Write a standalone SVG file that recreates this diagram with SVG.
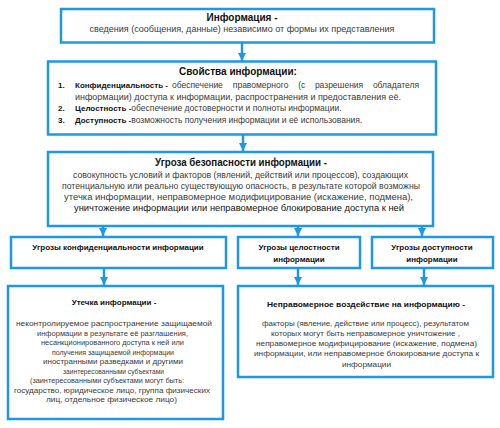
<svg xmlns="http://www.w3.org/2000/svg" width="500" height="428" viewBox="0 0 500 428">
<defs>
<style>
.box{fill:#fff;stroke:#1d98e3;stroke-width:2.5}
.arr{stroke:#1d98e3;stroke-width:2.5;fill:none}
text{font-family:"Liberation Sans",Arial,sans-serif;fill:#3a3a3a}
.t{font-weight:bold;fill:#111;font-size:10px}
.h{font-weight:bold;fill:#111;font-size:8px}
.bb{font-weight:bold;fill:#111;font-size:8px}
.b{font-size:8.5px}
.s{font-size:7.5px}
.c{text-anchor:middle}
</style>
<marker id="ah" viewBox="0 0 8 8" refX="8" refY="4" markerWidth="8" markerHeight="8" markerUnits="userSpaceOnUse" orient="auto">
<path d="M0,0 L8,4 L0,8 Z" fill="#1d98e3"/>
</marker>
</defs>
<rect width="500" height="428" fill="#fff"/>
<g id="connectors">
<line class="arr" x1="242" y1="43" x2="242" y2="61" marker-end="url(#ah)"/>
<line class="arr" x1="243" y1="135" x2="243" y2="151" marker-end="url(#ah)"/>
<line class="arr" x1="103" y1="227" x2="103" y2="236" marker-end="url(#ah)"/>
<line class="arr" x1="298" y1="227" x2="298" y2="236" marker-end="url(#ah)"/>
<line class="arr" x1="422" y1="227" x2="422" y2="236" marker-end="url(#ah)"/>
<line class="arr" x1="104" y1="269" x2="104" y2="285" marker-end="url(#ah)"/>
<line class="arr" x1="298" y1="269" x2="298" y2="285" marker-end="url(#ah)"/>
<line class="arr" x1="424" y1="269" x2="424" y2="285" marker-end="url(#ah)"/>
</g>
<g id="info">
<rect class="box" x="61" y="9" width="373" height="33.5"/>
<text class="t c" x="242" y="21">Информация  -</text>
<text class="c" x="242" y="32" style="font-size:9px">сведения (сообщения, данные) независимо от формы их представления</text>
</g>
<g id="properties">
<rect class="box" x="48" y="61.5" width="388" height="73"/>
<text class="t c" x="238" y="75">Свойства информации:</text>
<text class="bb" x="58" y="88">1.</text>
<text class="bb" x="75" y="88">Конфиденциальность -</text>
<text class="b" x="172" y="88">обеспечение</text>
<text class="b" x="232.8" y="88">правомерного</text>
<text class="b" x="298.2" y="88">(с</text>
<text class="b" x="314.9" y="88">разрешения</text>
<text class="b" x="372.9" y="88">обладателя</text>
<text class="b" x="75" y="99.5" textLength="326" lengthAdjust="spacingAndGlyphs">информации) доступа к информации, распространения и предоставления её.</text>
<text class="bb" x="58" y="111">2.</text>
<text class="b" x="75" y="111"><tspan class="bb">Целостность -</tspan><tspan>обеспечение достоверности и полноты информации.</tspan></text>
<text class="bb" x="58" y="122.5">3.</text>
<text class="b" x="75" y="122.5"><tspan class="bb">Доступность -</tspan><tspan>возможность получения информации и её использования.</tspan></text>
</g>
<g id="threat">
<rect class="box" x="48" y="152" width="385" height="74"/>
<text class="t" x="155" y="166" textLength="172" lengthAdjust="spacingAndGlyphs">Угроза безопасности информации -</text>
<text class="b" x="73" y="177.5" textLength="335" lengthAdjust="spacingAndGlyphs">совокупность условий и факторов (явлений, действий или процессов), создающих</text>
<text class="b" x="62" y="188.5" textLength="358" lengthAdjust="spacingAndGlyphs">потенциальную или реально существующую опасность, в результате которой возможны</text>
<text class="b" x="64" y="199.5" textLength="349" lengthAdjust="spacingAndGlyphs">утечка информации, неправомерное модифицирование  (искажение, подмена),</text>
<text class="b" x="74" y="211" textLength="330" lengthAdjust="spacingAndGlyphs" style="fill:#111">уничтожение информации или неправомерное блокирование доступа к ней</text>
</g>
<g id="conf">
<rect class="box" x="11" y="237" width="215" height="31"/>
<text class="h c" x="118" y="250">Угрозы конфиденциальности информации</text>
</g>
<g id="integ">
<rect class="box" x="238" y="237" width="122" height="31"/>
<text class="h c" x="299" y="250">Угрозы целостности</text>
<text class="h c" x="299" y="262">информации</text>
</g>
<g id="avail">
<rect class="box" x="372" y="237" width="121" height="31"/>
<text class="h c" x="432" y="250">Угрозы доступности</text>
<text class="h c" x="432" y="262">информации</text>
</g>
<g id="leak">
<rect class="box" x="8" y="286" width="215" height="133"/>
<text class="h c" x="114" y="305">Утечка информации -</text>
<text class="s" x="16" y="326" textLength="196" lengthAdjust="spacingAndGlyphs">неконтролируемое  распространение  защищаемой</text>
<text class="s" x="37" y="335.5" textLength="151" lengthAdjust="spacingAndGlyphs">информации в результате её разглашения,</text>
<text class="s" x="41" y="345" textLength="143" lengthAdjust="spacingAndGlyphs">несанкционированного доступа к ней или</text>
<text class="s" x="52" y="354.5" textLength="122" lengthAdjust="spacingAndGlyphs">получения защищаемой информации</text>
<text class="s" x="43" y="364" textLength="140" lengthAdjust="spacingAndGlyphs">иностранными разведками и другими</text>
<text class="s" x="63" y="373.5" textLength="101" lengthAdjust="spacingAndGlyphs">заинтересованными субъектами</text>
<text class="s" x="30" y="383" textLength="154" lengthAdjust="spacingAndGlyphs">(заинтересованными субъектами могут быть:</text>
<text class="s" x="14" y="392.5" textLength="196" lengthAdjust="spacingAndGlyphs">государство, юридическое лицо, группа физических</text>
<text class="s" x="46" y="402" textLength="131" lengthAdjust="spacingAndGlyphs">лиц, отдельное физическое лицо)</text>
</g>
<g id="impact">
<rect class="box" x="238" y="286" width="255" height="91"/>
<text class="h" x="267" y="307" textLength="198" lengthAdjust="spacingAndGlyphs">Неправомерное воздействие на информацию  -</text>
<text class="s" x="262" y="326" textLength="207" lengthAdjust="spacingAndGlyphs">факторы (явление, действие или процесс), результатом</text>
<text class="s" x="271" y="336" textLength="189" lengthAdjust="spacingAndGlyphs">которых могут быть неправомерное уничтожение ,</text>
<text class="s" x="256" y="346" textLength="221" lengthAdjust="spacingAndGlyphs">неправомерное модифицирование (искажение, подмена)</text>
<text class="s" x="254" y="356" textLength="225" lengthAdjust="spacingAndGlyphs">информации, или неправомерное блокирование  доступа к</text>
<text class="s" x="342" y="366.5" textLength="49" lengthAdjust="spacingAndGlyphs">информации</text>
</g>
</svg>
